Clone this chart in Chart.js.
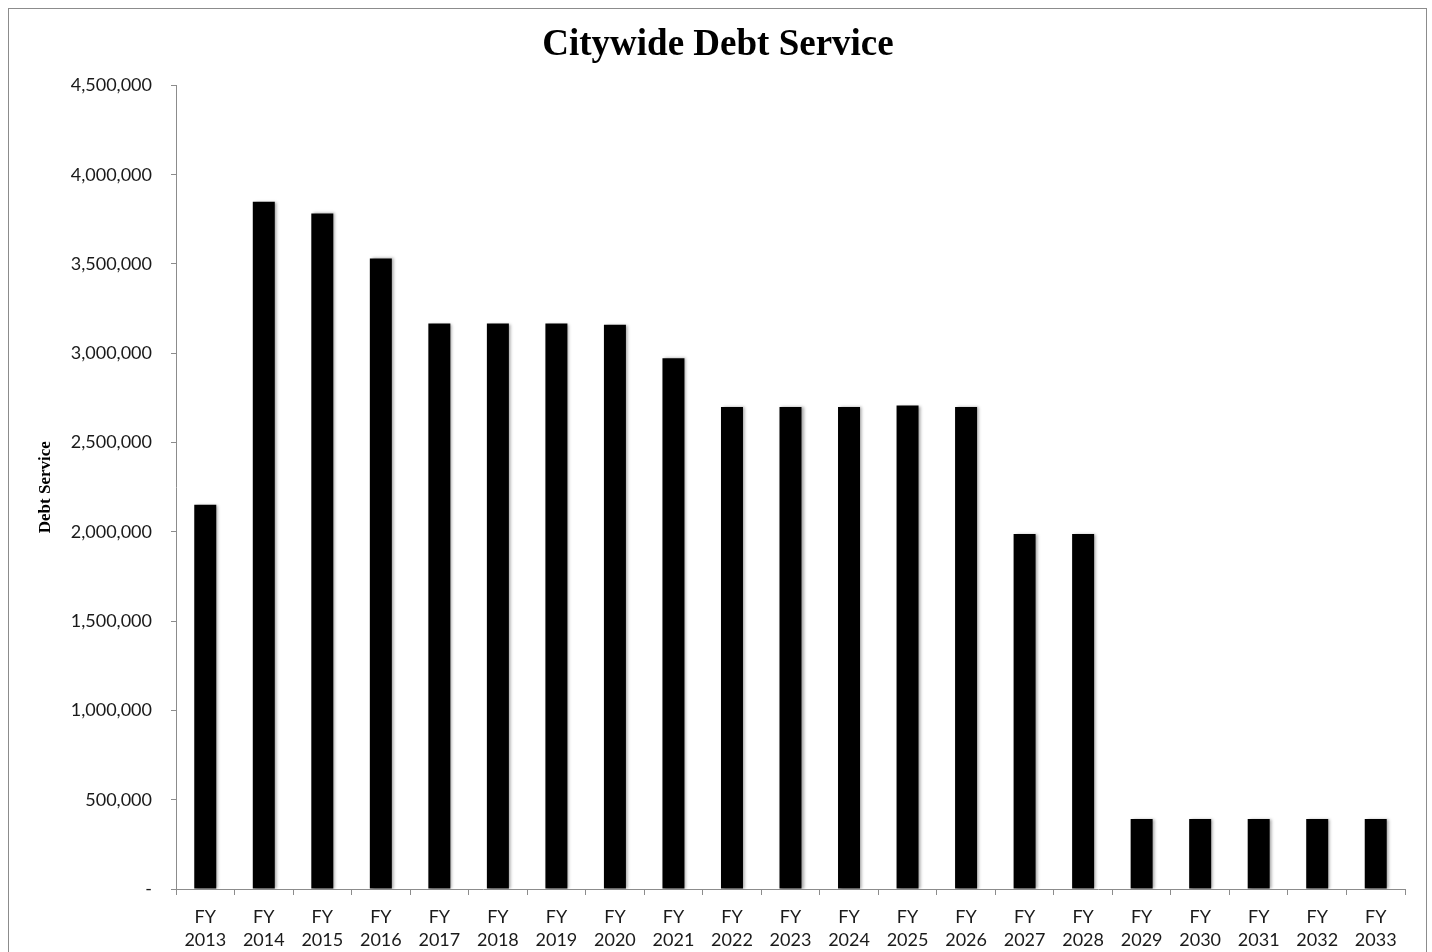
<!DOCTYPE html>
<html>
<head>
<meta charset="utf-8">
<script src="https://cdn.jsdelivr.net/npm/chart.js@4/dist/chart.umd.min.js"></script>
<style>
  html, body { margin: 0; padding: 0; background: #fff; overflow: hidden; }
  #frame { position: absolute; left: 8px; top: 8px; width: 1419px; height: 1000px; border: 1px solid #8c8c8c; box-sizing: border-box; }
  #wrap { position: absolute; left: 0; top: 0; width: 1432px; height: 952px; }
  .preload { font-family: Lato; position: absolute; left: -1000px; }
</style>
</head>
<body>
<span class="preload">FY 2013 4,500,000</span>
<div id="frame"></div>
<div id="wrap"><canvas id="c"></canvas></div>
<script>
const years = ['2013','2014','2015','2016','2017','2018','2019','2020','2021','2022','2023','2024','2025','2026','2027','2028','2029','2030','2031','2032','2033'];
const categories = years.map(y => ['FY', y]);
const debtService = [2152000, 3848000, 3783000, 3531000, 3166000, 3166000, 3166000, 3159000, 2972000, 2699000, 2699000, 2699000, 2707000, 2699000, 1988000, 1988000, 392000, 392000, 392000, 392000, 392000];
const yMax = 4500000;
const yStep = 500000;

const tickFamily = 'Lato, "Liberation Sans", sans-serif';
const serifFamily = '"Liberation Serif", serif';

const shadowPlugin = {
  id: 'barShadow',
  beforeDatasetsDraw(chart) {
    const ctx = chart.ctx;
    ctx.save();
    ctx.shadowColor = 'rgba(0,0,0,0.35)';
    ctx.shadowBlur = 3;
    ctx.shadowOffsetX = 2;
    ctx.shadowOffsetY = 0;
  },
  afterDatasetsDraw(chart) {
    chart.ctx.restore();
  }
};

function build() {
  new Chart(document.getElementById('c'), {
    type: 'bar',
    data: {
      labels: categories,
      datasets: [{
        label: 'Debt Service',
        data: debtService,
        backgroundColor: '#000000',
        borderWidth: 0,
        categoryPercentage: 1.0,
        barPercentage: 0.376
      }]
    },
    options: {
      responsive: true,
      maintainAspectRatio: false,
      animation: false,
      layout: { padding: { left: 31, right: 27, top: 0, bottom: 0 } },
      plugins: {
        legend: { display: false },
        tooltip: { enabled: false },
        title: {
          display: true,
          text: 'Citywide Debt Service',
          color: '#000',
          font: { family: serifFamily, size: 37, weight: 'bold', lineHeight: 1.2 },
          padding: { top: 23, bottom: 18 }
        }
      },
      scales: {
        x: {
          afterFit(s) { s.height = 63; },
          grid: { display: true, drawOnChartArea: false, drawTicks: true, tickLength: 6, color: '#8c8c8c', offset: true },
          border: { display: true, color: '#8c8c8c', width: 1 },
          ticks: {
            color: '#1a1a1a',
            font: { family: tickFamily, size: 18, lineHeight: 1.3 },
            padding: 10,
            maxRotation: 0,
            autoSkip: false
          }
        },
        y: {
          min: 0,
          max: yMax,
          afterFit(s) { s.width = 145; },
          grid: { display: true, drawOnChartArea: false, drawTicks: true, tickLength: 5, color: '#8c8c8c' },
          border: { display: true, color: '#8c8c8c', width: 1 },
          ticks: {
            stepSize: yStep,
            color: '#1a1a1a',
            padding: 19,
            font: { family: tickFamily, size: 18 },
            callback: v => v === 0 ? '-' : v.toLocaleString('en-US')
          },
          title: {
            display: true,
            text: 'Debt Service',
            color: '#000',
            font: { family: serifFamily, size: 17, weight: 'bold', lineHeight: 1.2 },
            padding: 4
          }
        }
      }
    },
    plugins: [shadowPlugin]
  });
}

Promise.all([
  document.fonts.load('18px Lato'),
  document.fonts.load('bold 37px "Liberation Serif"')
]).then(build, build);
</script>
</body>
</html>
